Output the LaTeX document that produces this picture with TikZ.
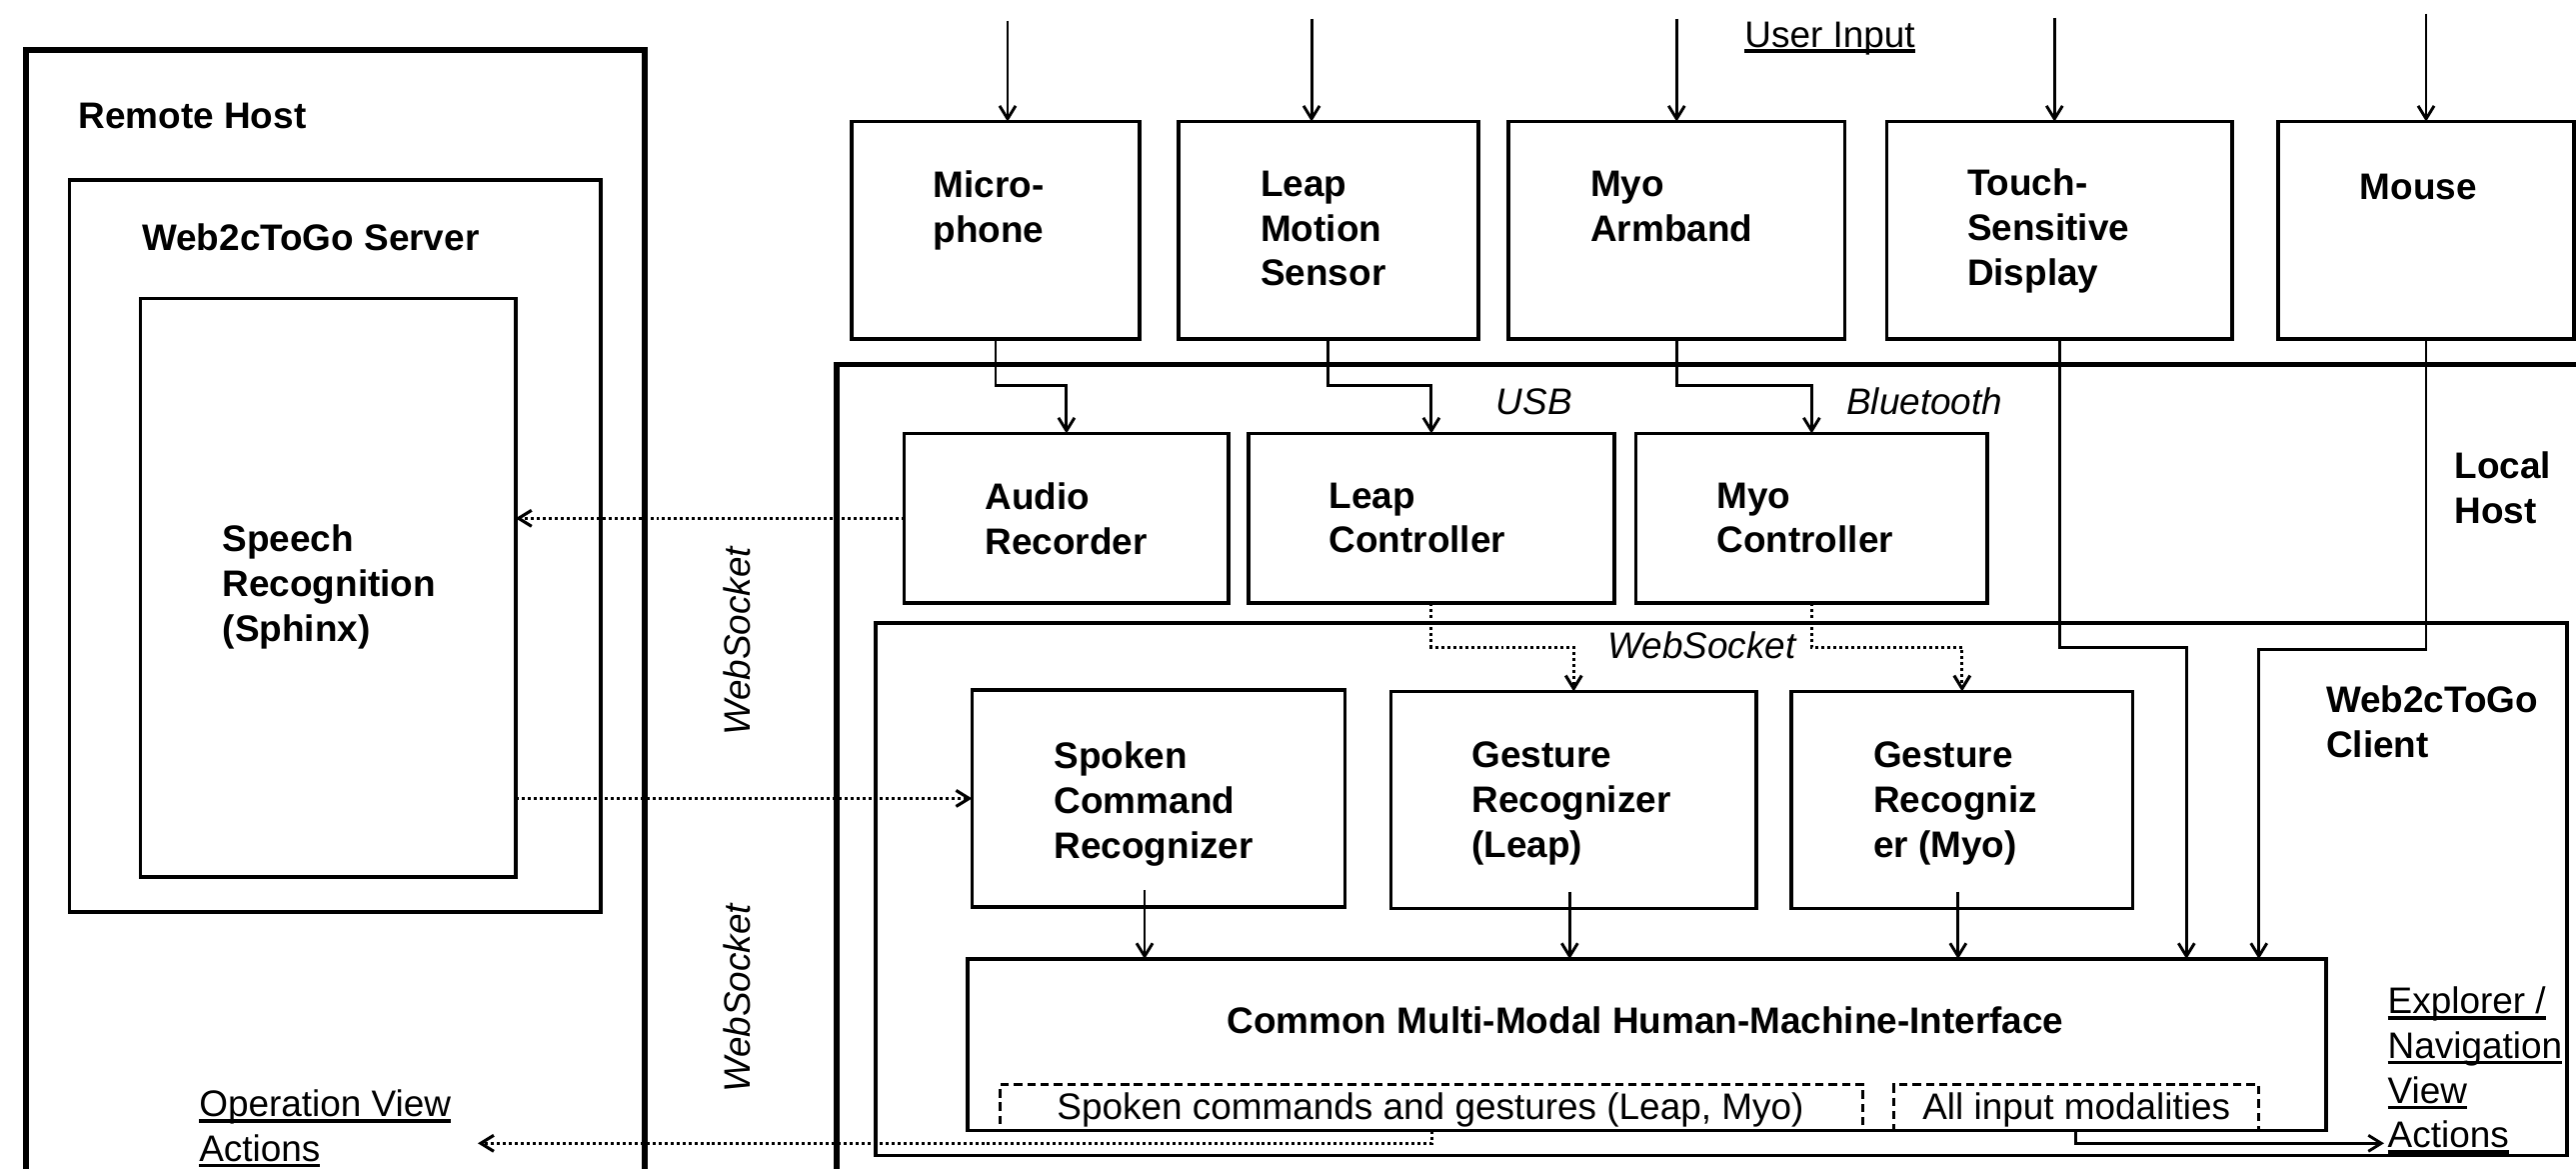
\documentclass[tikz,border=0pt]{standalone}
\usepackage{fontspec}
\setmainfont{Liberation Sans}
\usetikzlibrary{positioning,calc,arrows,arrows.meta}
\tikzset{font=\fontsize{10.5}{12.7}\selectfont}
\tikzset{
	box/.style={draw, line width=1pt, anchor=north west, inner sep=0pt, outer sep=0pt},
	hostbox/.style={box, line width=1.65pt},
	dashbox/.style={box, line width=0.85pt, dash pattern=on 2.4pt off 1.4pt},
	lbl/.style={anchor=north west, inner sep=0pt, align=left, font=\fontsize{10.5}{12.7}\selectfont\bfseries},
	txt/.style={anchor=north west, inner sep=0pt, align=left},
	itxt/.style={anchor=base west, inner sep=0pt, font=\fontsize{10.5}{12.7}\selectfont\itshape},
	arr/.style={line width=0.82pt, -{Straight Barb[length=1.3mm,width=1.6mm]}},
	dotarr/.style={arr, line width=0.88pt, dash pattern=on 0.85pt off 0.85pt}
}
\newcommand{\ulin}[1]{\setbox0\hbox{#1}\rlap{\rule[-1.6pt]{\wd0}{0.9pt}}\box0}

\begin{document}
\begin{tikzpicture}[x=0.01cm, y=-0.01cm]
	\clip (0,0) rectangle (2577,1169);

	% hosts and outer boxes
	\node[hostbox, minimum width=6.187cm, minimum height=12cm] (remote) at (25.8,49.7) {};
	\node[hostbox, minimum width=20cm, minimum height=10cm] (local) at (837,364.5) {};
	\node[box, minimum width=5.309cm, minimum height=7.317cm] (server) at (69.7,180) {};
	\node[box, minimum width=3.752cm, minimum height=5.782cm] (speech) at (140.4,298.5) {};
	\node[box, minimum width=16.91cm, minimum height=5.32cm] (client) at (876,623) {};

	% input devices
	\node[box, minimum width=2.882cm, minimum height=2.171cm] (mic) at (851.8,121.6) {};
	\node[box, minimum width=2.996cm, minimum height=2.171cm] (leapsensor) at (1179,121.6) {};
	\node[box, minimum width=3.364cm, minimum height=2.171cm] (myoband) at (1509,121.6) {};
	\node[box, minimum width=3.456cm, minimum height=2.171cm] (touch) at (1887.4,121.6) {};
	\node[box, minimum width=2.961cm, minimum height=2.171cm] (mouse) at (2278.9,121.6) {};

	% local host components
	\node[box, minimum width=3.244cm, minimum height=1.695cm] (audio) at (904.6,433.5) {};
	\node[box, minimum width=3.656cm, minimum height=1.695cm] (leapctrl) at (1249,433.5) {};
	\node[box, minimum width=3.515cm, minimum height=1.695cm] (myoctrl) at (1636.5,433.5) {};
	\node[box, minimum width=3.731cm, minimum height=2.167cm] (spoken) at (972.4,690) {};
	\node[box, minimum width=3.656cm, minimum height=2.17cm] (gestleap) at (1391.4,691.5) {};
	\node[box, minimum width=3.415cm, minimum height=2.17cm] (gestmyo) at (1792,691.5) {};
	\node[box, minimum width=13.586cm, minimum height=1.716cm] (hmi) at (967.8,959) {};
	\node[dashbox, minimum width=8.628cm, minimum height=0.461cm] (dashspoken) at (1000.5,1084.5) {};
	\node[dashbox, minimum width=3.644cm, minimum height=0.461cm] (dashall) at (1894.6,1084.5) {};

	% texts
	\node[lbl, anchor=base west] (remoteT) at (78,128) {Remote Host};
	\node[lbl, anchor=base west] (serverT) at (141.5,250.7) {Web2cToGo Server};
	\node[lbl] (speechT) at (222,524.5) {Speech\\Recognition\\(Sphinx)};
	\node[lbl] (micT) at (933,170.5) {Micro-\\phone};
	\node[lbl] (leapsensorT) at (1260.5,170.5) {Leap\\Motion\\Sensor};
	\node[lbl] (myobandT) at (1590.5,170.5) {Myo\\Armband};
	\node[lbl] (touchT) at (1967.3,168.5) {Touch-\\Sensitive\\Display};
	\node[lbl, anchor=base west] (mouseT) at (2360,199) {Mouse};
	\node[txt, anchor=base west] (userin) at (1744.7,47) {\ulin{User Input}};
	\node[itxt] (usb) at (1496,414) {USB};
	\node[itxt] (bt) at (1846.5,414) {Bluetooth};
	\node[lbl] (audioT) at (985,482) {Audio\\Recorder};
	\node[lbl] (leapctrlT) at (1329,482) {Leap\\Controller};
	\node[lbl] (myoctrlT) at (1716.8,482) {Myo\\Controller};
	\node[lbl] (localT) at (2455,451.5) {Local\\Host};
	\node[itxt] (ws) at (1607.8,658) {WebSocket};
	\node[lbl] (clientT) at (2326.4,685.5) {Web2cToGo\\Client};
	\node[lbl] (spokenT) at (1053.9,741.5) {Spoken\\Command\\Recognizer};
	\node[lbl] (gestleapT) at (1471.7,741.5) {Gesture\\Recognizer\\(Leap)};
	\node[lbl] (gestmyoT) at (1873.4,741.5) {Gesture\\Recogniz\\er (Myo)};
	\node[lbl, anchor=base] (hmiT) at (1646,1033.7) {Common Multi-Modal Human-Machine-Interface};
	\node[txt, anchor=base west] (dashspokenT) at (1056.7,1119) {Spoken commands and gestures (Leap, Myo)};
	\node[txt, anchor=base west] (dashallT) at (1922.6,1119) {All input modalities};
	\node[txt] (explorer) at (2388,986.5) {\ulin{Explorer /}\\\ulin{Navigation}\\\ulin{View}\\\ulin{Actions}};
	\node[txt] (opview) at (198.6,1089.5) {\ulin{Operation View}\\\ulin{Actions}};
	\node[itxt, rotate=90, anchor=center] (wsup) at (737,641) {WebSocket};
	\node[itxt, rotate=90, anchor=center] (wslow) at (737,998) {WebSocket};

	\coordinate (opend) at (478,1143.3);
	\coordinate (explend) at (2385,1143.3);

	% user input
	\draw[arr] ([xshift=0.12cm,yshift=1.01cm]mic.north) -- ([xshift=0.12cm]mic.north);
	\draw[arr] ([xshift=-0.168cm,yshift=1.03cm]leapsensor.north) -- ([xshift=-0.168cm]leapsensor.north);
	\draw[arr] ([yshift=1.03cm]myoband.north) -- (myoband.north);
	\draw[arr] ([xshift=-0.05cm,yshift=1.04cm]touch.north) -- ([xshift=-0.05cm]touch.north);
	\draw[arr] ([yshift=1.08cm]mouse.north) -- (mouse.north);

	% USB / Bluetooth
	\draw[arr] (mic.south) -- ++(0,47) -| (audio.north);
	\draw[arr] (leapsensor.south) -- ++(0,47) -| (leapctrl.north);
	\draw[arr] (myoband.south) -- ++(0,47) -| (myoctrl.north);
	\draw[arr] (touch.south) -- ++(0,308.5) -| ([xshift=5.395cm]hmi.north);
	\draw[arr] (mouse.south) -- ++(0,310.3) -| ([xshift=6.119cm]hmi.north);

	% WebSocket
	\draw[dotarr] (leapctrl.south) -- ++(0,44) -| (gestleap.north);
	\draw[dotarr] (myoctrl.south) -- ++(0,44) -| (gestmyo.north);
	\draw[dotarr] (audio.west) -- (audio.west -| speech.east);
	\draw[dotarr] (spoken.west -| speech.east) -- (spoken.west);
	\draw[dotarr] (dashspoken.south) |- (opend);

	% recognizers to HMI
	\draw[arr] ([xshift=-0.14cm,yshift=0.17cm]spoken.south) coordinate (sp) -- (sp |- hmi.north);
	\draw[arr] ([xshift=-0.04cm,yshift=0.17cm]gestleap.south) coordinate (gl) -- (gl |- hmi.north);
	\draw[arr] ([xshift=-0.04cm,yshift=0.17cm]gestmyo.south) coordinate (gm) -- (gm |- hmi.north);
	\draw[arr] (dashall.south) |- (explend);
\end{tikzpicture}
\end{document}
